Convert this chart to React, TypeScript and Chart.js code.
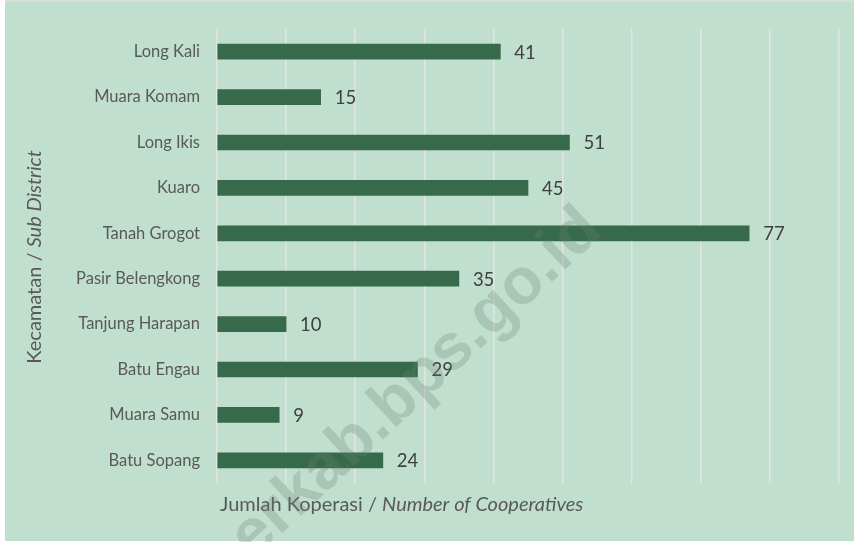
import React, { useEffect, useRef } from "react";
import { Chart, registerables } from "chart.js";

Chart.register(...registerables);

const categories = [
  "Long Kali",
  "Muara Komam",
  "Long Ikis",
  "Kuaro",
  "Tanah Grogot",
  "Pasir Belengkong",
  "Tanjung Harapan",
  "Batu Engau",
  "Muara Samu",
  "Batu Sopang",
];
const cooperatives = [41, 15, 51, 45, 77, 35, 10, 29, 9, 24];
const xTitleRegular = "Jumlah Koperasi / ";
const xTitleItalic = "Number of Cooperatives";
const yTitleRegular = "Kecamatan / ";
const yTitleItalic = "Sub District";
const watermark = "paserkab.bps.go.id";

const W = 854;
const H = 542;
const BG = "#c1dfce";
const BAR = "#376a4b";
const FONT = "Lato, 'Noto Sans', sans-serif";

const backgroundPlugin = {
  id: "bgPlugin",
  beforeDraw(chart: any) {
    const ctx = chart.ctx;
    ctx.save();
    ctx.fillStyle = "#ffffff";
    ctx.fillRect(0, 0, W, H);
    ctx.fillStyle = "#dcdcdc";
    ctx.fillRect(5, 0, W - 5, 2);
    ctx.fillStyle = BG;
    ctx.fillRect(5, 2, W - 5, H - 3);
    ctx.restore();
  },
};

const labelsPlugin = {
  id: "labelsPlugin",
  afterDatasetsDraw(chart: any) {
    const ctx = chart.ctx;
    const meta = chart.getDatasetMeta(0);
    ctx.save();
    ctx.font = `18.5px ${FONT}`;
    ctx.fillStyle = "#404040";
    ctx.textAlign = "left";
    ctx.textBaseline = "middle";
    meta.data.forEach((el: any, i: number) => {
      ctx.fillText(String(cooperatives[i]), el.x + 14, el.y + 1);
    });
    ctx.restore();
  },
  afterDraw(chart: any) {
    const ctx = chart.ctx;
    const area = chart.chartArea;
    ctx.save();
    // x axis title
    ctx.fillStyle = "#595959";
    ctx.textBaseline = "middle";
    ctx.textAlign = "left";
    const fs = 20;
    ctx.font = `${fs}px ${FONT}`;
    const w1 = ctx.measureText(xTitleRegular).width;
    const xStart = area.left + 3;
    const yMid = area.bottom + 22;
    ctx.fillText(xTitleRegular, xStart, yMid);
    ctx.font = `italic ${fs}px ${FONT}`;
    ctx.fillText(xTitleItalic, xStart + w1, yMid);

    // y axis title
    ctx.font = `${fs}px ${FONT}`;
    const v1 = ctx.measureText(yTitleRegular).width;
    ctx.font = `italic ${fs}px ${FONT}`;
    const v2 = ctx.measureText(yTitleItalic).width;
    const total = v1 + v2;
    ctx.translate(35, (area.top + area.bottom) / 2 + 1);
    ctx.rotate(-Math.PI / 2);
    ctx.font = `${fs}px ${FONT}`;
    ctx.fillText(yTitleRegular, -total / 2, 0);
    ctx.font = `italic ${fs}px ${FONT}`;
    ctx.fillText(yTitleItalic, -total / 2 + v1, 0);
    ctx.restore();

    // watermark
    ctx.save();
    ctx.translate(592, 220);
    ctx.rotate((-43 * Math.PI) / 180);
    ctx.font = `bold 65px 'Liberation Sans', Arial, sans-serif`;
    ctx.fillStyle = "rgba(105,128,115,0.27)";
    ctx.textAlign = "right";
    ctx.textBaseline = "middle";
    ctx.fillText(watermark, 0, 0);
    ctx.restore();
  },
};

export default function App() {
  const ref = useRef<HTMLCanvasElement | null>(null);

  useEffect(() => {
    if (!ref.current) return;
    const chart = new Chart(ref.current, {
      type: "bar",
      data: {
        labels: categories,
        datasets: [
          {
            data: cooperatives,
            backgroundColor: BAR,
            borderWidth: 0,
            barThickness: 15,
          },
        ],
      },
      options: {
        indexAxis: "y",
        responsive: false,
        animation: false,
        layout: { padding: { left: 0, top: 29, right: 15, bottom: 0 } },
        plugins: {
          legend: { display: false },
          tooltip: { enabled: false },
        },
        scales: {
          x: {
            min: 0,
            max: 90,
            ticks: { stepSize: 10, display: false },
            grid: { color: "#e4e4e4", lineWidth: 1.5, drawTicks: false },
            border: { display: false },
            afterFit(scale: any) {
              scale.height = 59;
            },
          },
          y: {
            ticks: {
              color: "#595959",
              font: { family: FONT, size: 16.5 },
              padding: 17,
            },
            grid: { display: false, drawTicks: false },
            border: { display: false },
            afterFit(scale: any) {
              scale.width = 217;
            },
          },
        },
      },
      plugins: [backgroundPlugin, labelsPlugin],
    } as any);
    return () => chart.destroy();
  }, []);

  return (
    <div style={{ position: "fixed", left: 0, top: 0, width: W, height: H }}>
      <canvas ref={ref} width={W} height={H} style={{ display: "block" }} />
    </div>
  );
}
